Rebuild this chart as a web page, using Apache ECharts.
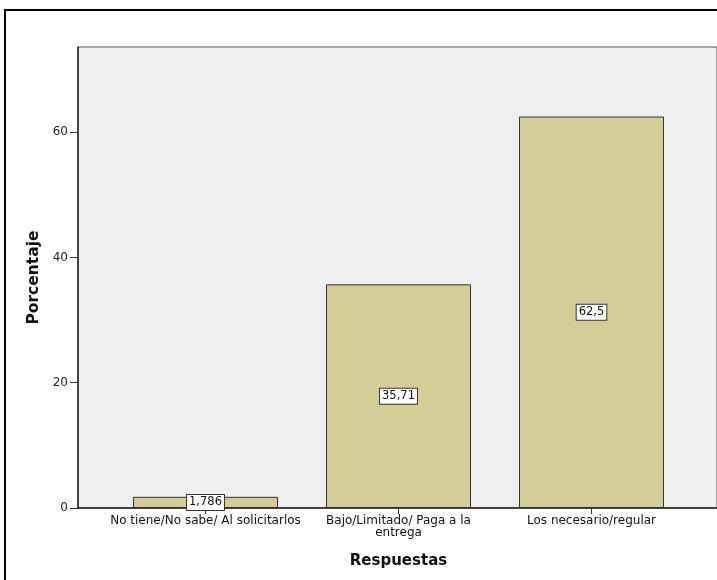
<!DOCTYPE html>
<html><head><meta charset="utf-8">
<script src="https://cdn.jsdelivr.net/npm/echarts@6/dist/echarts.min.js"></script>
<style>html,body{margin:0;padding:0;background:#fff}#c{width:717px;height:580px}</style>
</head><body><div id="c"></div>
<script>
const categories = ["No tiene/No sabe/ Al solicitarlos", "Bajo/Limitado/ Paga a la entrega", "Los necesario/regular"];
const tickLabels = ["No tiene/No sabe/ Al solicitarlos", "Bajo/Limitado/ Paga a la\nentrega", "Los necesario/regular"];
const values = [1.786, 35.71, 62.5];
const valueLabels = ["1,786", "35,71", "62,5"];
const yTicks = [0, 20, 40, 60];

const chart = echarts.init(document.getElementById('c'), null, {renderer: 'canvas'});
const font = 'DejaVu Sans';
chart.setOption({
  animation: false,
  backgroundColor: '#fff',
  graphic: [{
    type: 'rect', shape: {x: 5, y: 10, width: 800, height: 700},
    style: {fill: 'none', stroke: '#000', lineWidth: 2}, z: 100
  }],
  grid: [
    {left: 78, top: 47, right: -10, bottom: 72, show: true, backgroundColor: '#efefef', borderColor: '#555', borderWidth: 1},
    {left: 109, top: 47, right: 29, bottom: 72}
  ],
  xAxis: [
    {gridIndex: 0, type: 'value', min: 0, max: 1, show: true,
     axisLine: {show: true, lineStyle: {color: '#222', width: 1.5}}, axisTick: {show: false}, axisLabel: {show: false}, splitLine: {show: false}},
    {gridIndex: 1, type: 'category', data: categories,
     axisLine: {show: false},
     axisTick: {show: true, alignWithLabel: true, length: 6, lineStyle: {color: '#333'}},
     axisLabel: {interval: 0, fontFamily: font, fontSize: 12, color: '#111', margin: 7, lineHeight: 12,
       formatter: (v, i) => tickLabels[i]},
     name: 'Respuestas', nameLocation: 'middle', nameGap: 46,
     nameTextStyle: {fontFamily: font, fontSize: 15, fontWeight: 'bold', color: '#111'}}
  ],
  yAxis: [
    {gridIndex: 0, type: 'value', min: 0, max: 73.6, interval: 20,
     axisLine: {show: true, lineStyle: {color: '#222', width: 1.5}},
     axisTick: {show: true, length: 8, lineStyle: {color: '#333'}},
     axisLabel: {fontFamily: font, fontSize: 12, color: '#222', margin: 10, showMaxLabel: false,
       formatter: v => yTicks.includes(v) ? String(v) : ''},
     splitLine: {show: false},
     name: 'Porcentaje', nameLocation: 'middle', nameGap: 34, nameRotate: 90,
     nameTextStyle: {fontFamily: font, fontSize: 15.5, fontWeight: 'bold', color: '#111'}},
    {gridIndex: 1, type: 'value', min: 0, max: 73.6, show: false}
  ],
  series: [{
    type: 'bar', xAxisIndex: 1, yAxisIndex: 1, data: values, barWidth: 145,
    itemStyle: {color: '#d3cd98', borderColor: '#333', borderWidth: 1},
    label: {show: true, position: 'inside', formatter: p => valueLabels[p.dataIndex],
      fontFamily: font, fontSize: 11.5, color: '#111', backgroundColor: '#fff',
      borderColor: '#333', borderWidth: 1, padding: [2, 2, 1, 2]}
  }]
});
</script></body></html>
